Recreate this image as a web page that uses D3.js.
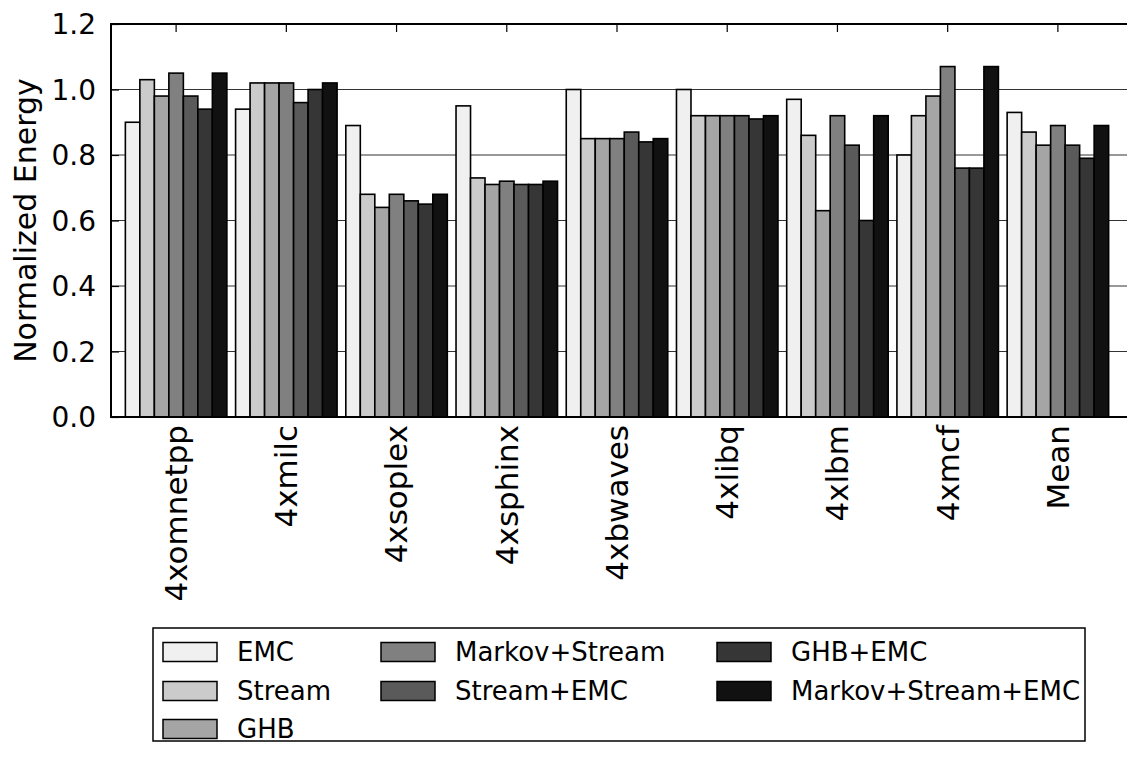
<!DOCTYPE html>
<html>
<head>
<meta charset="utf-8">
<script src="https://cdn.jsdelivr.net/npm/d3@7"></script>
<style>
  body { margin: 0; background: #fff; }
  svg { display: block; font-family: "DejaVu Sans", sans-serif; }
</style>
</head>
<body>
<svg id="chart" width="1127" height="757"></svg>
<script>
const categories = ["4xomnetpp", "4xmilc", "4xsoplex", "4xsphinx", "4xbwaves", "4xlibq", "4xlbm", "4xmcf", "Mean"];
const seriesNames = ["EMC", "Stream", "GHB", "Markov+Stream", "Stream+EMC", "GHB+EMC", "Markov+Stream+EMC"];
const seriesColors = ["#f0f0f0", "#cbcbcb", "#a5a5a5", "#808080", "#5a5a5a", "#363636", "#111111"];
const emc            = [0.90, 0.94, 0.89, 0.95, 1.00, 1.00, 0.97, 0.80, 0.93];
const stream         = [1.03, 1.02, 0.68, 0.73, 0.85, 0.92, 0.86, 0.92, 0.87];
const ghb            = [0.98, 1.02, 0.64, 0.71, 0.85, 0.92, 0.63, 0.98, 0.83];
const markovStream   = [1.05, 1.02, 0.68, 0.72, 0.85, 0.92, 0.92, 1.07, 0.89];
const streamEmc      = [0.98, 0.96, 0.66, 0.71, 0.87, 0.92, 0.83, 0.76, 0.83];
const ghbEmc         = [0.94, 1.00, 0.65, 0.71, 0.84, 0.91, 0.60, 0.76, 0.79];
const markovStreamEmc= [1.05, 1.02, 0.68, 0.72, 0.85, 0.92, 0.92, 1.07, 0.89];
const yTicks = [0.0, 0.2, 0.4, 0.6, 0.8, 1.0, 1.2];

const seriesValues = [emc, stream, ghb, markovStream, streamEmc, ghbEmc, markovStreamEmc];

const svg = d3.select("#chart");
const L = 111, T = 24, B = 417, Rframe = 1135;

const x = d3.scaleBand().domain(categories).range([121, 1113]).paddingInner(0).paddingOuter(0);
const groupW = 101.5;
const xs = d3.scaleBand().domain(seriesNames).range([0, groupW]).padding(0);
const y = d3.scaleLinear().domain([0, 1.2]).range([B, T]);

// gridlines
svg.append("g").selectAll("line").data(yTicks.slice(1, -1)).join("line")
  .attr("x1", L).attr("x2", Rframe)
  .attr("y1", d => y(d)).attr("y2", d => y(d))
  .attr("stroke", "#333").attr("stroke-width", 1);

// bars
const groups = svg.append("g").selectAll("g").data(categories).join("g")
  .attr("transform", d => `translate(${x(d) + x.bandwidth() / 2 - groupW / 2},0)`);
groups.selectAll("rect").data((c, i) => seriesNames.map((s, j) => ({ s, j, v: seriesValues[j][i] })))
  .join("rect")
  .attr("x", d => xs(d.s))
  .attr("width", xs.bandwidth())
  .attr("y", d => y(d.v))
  .attr("height", d => B - y(d.v))
  .attr("fill", d => seriesColors[d.j])
  .attr("stroke", "#000").attr("stroke-width", 1.6);

// frame
svg.append("rect").attr("x", L).attr("y", T).attr("width", Rframe - L).attr("height", B - T)
  .attr("fill", "none").attr("stroke", "#000").attr("stroke-width", 2);

// y axis
const yAxis = d3.axisLeft(y).tickValues(yTicks).tickFormat(d3.format(".1f")).tickSizeInner(-8).tickSizeOuter(0).tickPadding(15);
const gy = svg.append("g").attr("transform", `translate(${L},0)`).call(yAxis);
gy.select(".domain").remove();
gy.selectAll(".tick line").attr("stroke", "#000").attr("stroke-width", 1.2);
gy.selectAll(".tick text").attr("font-size", 28).attr("font-family", "DejaVu Sans").attr("fill", "#000")
  .attr("dy", "0.35em");

// top ticks
const xTop = d3.axisTop(x).tickSizeInner(-8).tickSizeOuter(0).tickFormat("");
const gt = svg.append("g").attr("transform", `translate(0,${T})`).call(xTop);
gt.select(".domain").remove();
gt.selectAll(".tick line").attr("stroke", "#000").attr("stroke-width", 1.2);

// x labels
const xAxis = d3.axisBottom(x).tickSize(0).tickPadding(0);
const gx = svg.append("g").attr("transform", `translate(0,${B})`).call(xAxis);
gx.select(".domain").remove();
gx.selectAll(".tick text")
  .attr("font-size", 31).attr("font-family", "DejaVu Sans").attr("fill", "#000")
  .attr("text-anchor", "end")
  .attr("transform", "translate(0,8) rotate(-90)")
  .attr("x", 0).attr("y", 0).attr("dy", "0.35em");

// y label
svg.append("text").attr("transform", `translate(36,${(T + B) / 2}) rotate(-90)`)
  .attr("text-anchor", "middle").attr("font-size", 30).attr("fill", "#000")
  .text("Normalized Energy");

// legend (3 columns, filled column-wise: 3, 2, 2)
const legend = svg.append("g");
legend.append("rect").attr("x", 153).attr("y", 628).attr("width", 932).attr("height", 113)
  .attr("fill", "#fff").attr("stroke", "#000").attr("stroke-width", 1.5);
const colX = [163, 381, 717];
const rowY = [652, 691, 729];
const colOf = [0, 0, 0, 1, 1, 2, 2];
const rowOf = [0, 1, 2, 0, 1, 0, 1];
const items = seriesNames.map((s, j) => ({ s, j, col: colOf[j], row: rowOf[j] }));
const li = legend.selectAll("g.item").data(items).join("g").attr("class", "item")
  .attr("transform", d => `translate(${colX[d.col]},${rowY[d.row]})`);
li.append("rect").attr("x", 0).attr("y", -9.5).attr("width", 54).attr("height", 19)
  .attr("fill", d => seriesColors[d.j]).attr("stroke", "#000").attr("stroke-width", 1.5);
li.append("text").attr("x", 74).attr("y", 0).attr("dy", "0.35em")
  .attr("font-size", 26).attr("fill", "#000").text(d => d.s);
</script>
</body>
</html>
